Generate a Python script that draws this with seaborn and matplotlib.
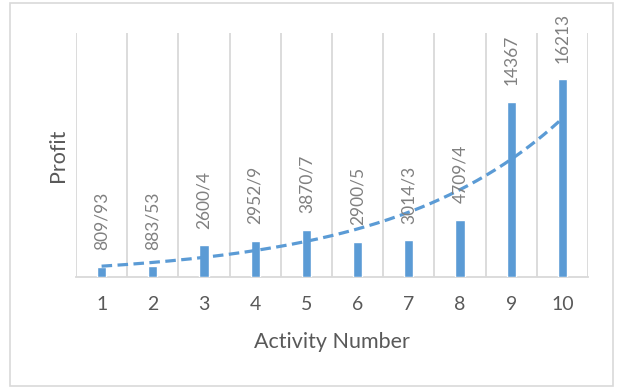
import numpy as np
import pandas as pd
import seaborn as sns
import matplotlib
matplotlib.use("Agg")
import matplotlib.pyplot as plt
from matplotlib.patches import Rectangle

categories = ["1", "2", "3", "4", "5", "6", "7", "8", "9", "10"]
profits = [809.93, 883.53, 2600.4, 2952.9, 3870.7, 2900.5, 3014.3, 4709.4, 14367, 16213]
bar_labels = ["809/93", "883/53", "2600/4", "2952/9", "3870/7", "2900/5", "3014/3", "4709/4", "14367", "16213"]

sns.set_theme(style="white")
plt.rcParams['font.family'] = ['Lato', 'DejaVu Sans']

BLUE = "#5B9BD5"
GRID = "#D9D9D9"

fig = plt.figure(figsize=(6.17, 3.89), dpi=100)
ax = fig.add_axes([76/617, (389-277)/389, (588-76)/617, (277-33)/389])

df = pd.DataFrame({"Activity": categories, "Profit": profits})
sns.barplot(data=df, x="Activity", y="Profit", color=BLUE, width=0.18,
            saturation=1, ax=ax, zorder=3)

ax.set_xlim(-0.5, 9.5)
ax.set_ylim(0, 20000)

# vertical gridlines at category boundaries
for b in np.arange(-0.5, 10, 1.0):
    ax.axvline(b, color=GRID, lw=1.3, zorder=1)

# exponential trendline fitted to the data
xs = np.arange(len(profits))
coef = np.polyfit(xs + 1, np.log(profits), 1)
xx = np.linspace(1, len(profits), 200)
yy = np.exp(np.polyval(coef, xx))
ax.plot(xx - 1, yy, color=BLUE, lw=2.3, linestyle=(0, (3.3, 1.7)), zorder=4,
        solid_capstyle="butt")

# data labels
for i, (v, lab) in enumerate(zip(profits, bar_labels)):
    ax.annotate(lab, xy=(i, v), xytext=(0, 12), textcoords="offset points",
                rotation=90, ha="center", va="bottom", fontsize=12.5,
                color="#808080", zorder=5, annotation_clip=False)

for s in ["top", "right", "left"]:
    ax.spines[s].set_visible(False)
ax.spines["bottom"].set_color(GRID)
ax.spines["bottom"].set_linewidth(1.3)
ax.set_yticks([])
ax.tick_params(axis="x", length=0, pad=14, labelsize=14, labelcolor="#595959")
ax.set_xlabel("Activity Number", fontsize=15.5, color="#595959", labelpad=13)
ax.set_ylabel("Profit", fontsize=15.5, color="#595959", labelpad=6)

fig.patches.append(Rectangle((10/617, 3/389), 603/617, 383/389, transform=fig.transFigure,
                             fill=False, edgecolor=GRID, lw=1.2))

fig.savefig("out.png", dpi=100)
